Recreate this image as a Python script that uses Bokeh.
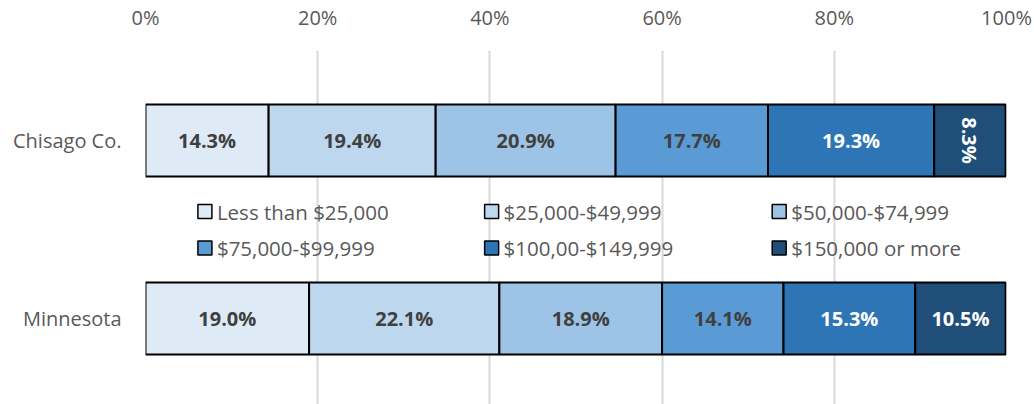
from bokeh.plotting import figure
from bokeh.models import Range1d, FixedTicker
from bokeh.core.properties import value
from bokeh.embed import file_html
from bokeh.resources import INLINE
import math

# ---------------- data ----------------
categories = ["Minnesota", "Chisago Co."]
series = ["Less than $25,000", "$25,000-$49,999", "$50,000-$74,999",
          "$75,000-$99,999", "$100,00-$149,999", "$150,000 or more"]
chisago = [14.3, 19.4, 20.9, 17.7, 19.3, 8.3]
minnesota = [19.0, 22.1, 18.9, 14.1, 15.3, 10.5]
tick_values = [0, 20, 40, 60, 80, 100]
tick_labels = ["0%", "20%", "40%", "60%", "80%", "100%"]

# ---------------- style ----------------
colors = ["#DEEBF7", "#BDD7EE", "#9DC3E6", "#5B9BD5", "#2E75B6", "#1F4E79"]
label_colors = ["#404040", "#404040", "#404040", "#404040", "#FFFFFF", "#FFFFFF"]
FONT = "Open Sans"
GREY = "#595959"

values_by_cat = {"Minnesota": minnesota, "Chisago Co.": chisago}

p = figure(width=1034, height=404,
           x_range=Range1d(0, 100), y_range=Range1d(-0.4831, 1.5056),
           x_axis_location="above",
           output_backend="svg", toolbar_location=None,
           min_border_left=145, min_border_right=28,
           min_border_top=50, min_border_bottom=0)
p.outline_line_color = None
p.background_fill_color = "white"
p.border_fill_color = "white"

# axes
p.xaxis.ticker = FixedTicker(ticks=tick_values)
p.xaxis.major_label_overrides = {v: l for v, l in zip(tick_values, tick_labels)}
p.xaxis.axis_line_color = None
p.xaxis.major_tick_line_color = None
p.xaxis.minor_tick_line_color = None
p.xaxis.major_tick_out = 0
p.xaxis.major_tick_in = 0
p.xaxis.major_label_standoff = 20
p.xaxis.major_label_text_font = FONT
p.xaxis.major_label_text_font_size = "20px"
p.xaxis.major_label_text_color = GREY

ypos = list(range(len(categories)))
p.yaxis.ticker = FixedTicker(ticks=ypos)
p.yaxis.major_label_overrides = {i: c for i, c in zip(ypos, categories)}
p.yaxis.axis_line_color = None
p.yaxis.major_tick_line_color = None
p.yaxis.minor_tick_line_color = None
p.yaxis.major_tick_out = 0
p.yaxis.major_tick_in = 0
p.yaxis.major_label_standoff = 24
p.yaxis.major_label_text_font = FONT
p.yaxis.major_label_text_font_size = "20px"
p.yaxis.major_label_text_color = GREY

p.xgrid.grid_line_color = "#D9D9D9"
p.xgrid.grid_line_width = 2
p.ygrid.grid_line_color = None

# bars
bar_h = 0.4045
for ci, cat in enumerate(categories):
    vals = values_by_cat[cat]
    left = 0.0
    for si, v in enumerate(vals):
        right = left + v
        p.hbar(y=[ci], left=[left], right=[right], height=bar_h,
               fill_color=colors[si], line_color="#000000", line_width=2)
        mid = (left + right) / 2
        rot = v < 9
        p.text(x=[mid], y=[ci], text=[f"{v:.1f}%"],
               angle=(-math.pi / 2 if rot else 0),
               text_align="center", text_baseline="middle",
               text_font=value(FONT), text_font_style="bold",
               text_font_size="20px", text_color=label_colors[si])
        left = right

# legend (3 columns x 2 rows)
leg_x = [6.9, 40.2, 73.6]
leg_y = [0.601, 0.396]
for si, name in enumerate(series):
    r, c = divmod(si, 3)
    p.scatter(x=[leg_x[c]], y=[leg_y[r]], marker="square", size=14,
              fill_color=colors[si], line_color="#000000", line_width=1.5)
    p.text(x=[leg_x[c]], y=[leg_y[r]], text=[name], x_offset=12,
           text_align="left", text_baseline="middle",
           text_font=value(FONT), text_font_size="20.5px", text_color=GREY)

open("out.html", "w").write(file_html(p, INLINE))
